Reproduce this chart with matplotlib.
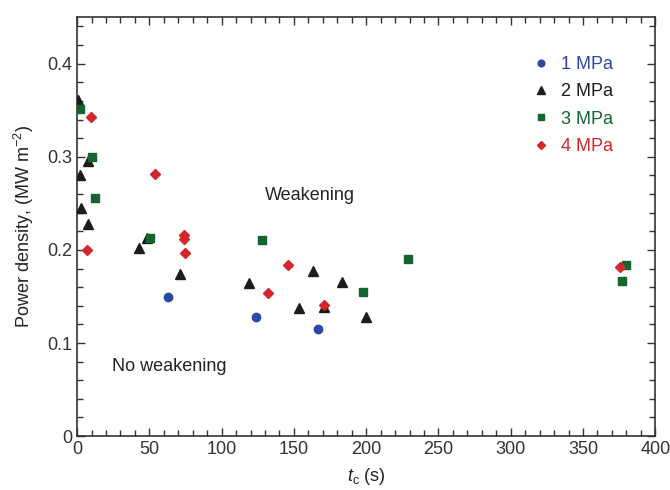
import matplotlib as mpl
mpl.use('Agg')
import matplotlib.pyplot as plt
from matplotlib.ticker import MultipleLocator, FuncFormatter

plt.rcParams['font.family'] = ['Liberation Sans', 'DejaVu Sans']
plt.rcParams['mathtext.fontset'] = 'custom'
plt.rcParams['mathtext.rm'] = 'Liberation Sans'
plt.rcParams['mathtext.it'] = 'Liberation Sans:italic'

# data: contact time (s) vs power density (MW m^-2)
t_1mpa = [63, 124, 167]
p_1mpa = [0.149, 0.128, 0.115]

t_2mpa = [1, 2, 2.5, 7.8, 7.8, 43, 48.7, 71.3, 119, 153.6, 163, 171.1, 183.2, 199.8]
p_2mpa = [0.361, 0.280, 0.245, 0.296, 0.228, 0.202, 0.213, 0.174, 0.164, 0.138, 0.177, 0.139, 0.165, 0.128]

t_3mpa = [2.1, 10.1, 12.5, 50.5, 127.8, 197.9, 229, 377, 380]
p_3mpa = [0.351, 0.300, 0.256, 0.213, 0.211, 0.155, 0.190, 0.167, 0.184]

t_4mpa = [9.7, 7.1, 54, 74, 74, 75, 132, 146, 171.1, 375.8]
p_4mpa = [0.343, 0.200, 0.281, 0.216, 0.212, 0.197, 0.154, 0.184, 0.141, 0.182]

c_blue = '#2e47a3'
c_black = '#1c1c1c'
c_green = '#13652f'
c_red = '#d3262d'

fig = plt.figure(figsize=(6.7, 4.9), dpi=100)
ax = fig.add_axes([0.115, 0.110, 0.863, 0.855])

ax.plot(t_1mpa, p_1mpa, 'o', color=c_blue, markersize=6, label='1 MPa', zorder=3)
ax.plot(t_2mpa, p_2mpa, '^', color=c_black, markersize=7, label='2 MPa', zorder=3)
ax.plot(t_3mpa, p_3mpa, 's', color=c_green, markersize=6, label='3 MPa', zorder=3)
ax.plot(t_4mpa, p_4mpa, 'D', color=c_red, markersize=5.5, label='4 MPa', zorder=4)

ax.set_xlim(0, 400)
ax.set_ylim(0, 0.45)

# ticks inside on all four sides
ax.xaxis.set_major_locator(MultipleLocator(50))
ax.xaxis.set_minor_locator(MultipleLocator(10))
ax.yaxis.set_major_locator(MultipleLocator(0.1))
ax.yaxis.set_minor_locator(MultipleLocator(0.02))
ax.yaxis.set_major_formatter(FuncFormatter(lambda v, p: '0' if abs(v) < 1e-9 else '%.1f' % v))
ax.tick_params(which='both', direction='in', top=True, right=True, labelsize=13, colors='#333333')
ax.tick_params(which='major', length=6, width=1)
ax.tick_params(which='minor', length=4, width=1)
for s in ax.spines.values():
    s.set_color('#333333')
    s.set_linewidth(1.2)

ax.set_xlabel(r'$t_{\rm c}$ (s)', fontsize=13, color='#222222', labelpad=6)
ax.set_ylabel(r'Power density, (MW m$^{-2}$)', fontsize=13, color='#222222', labelpad=8)

ax.text(161, 0.258, 'Weakening', fontsize=13, color='#222222', ha='center', va='center')
ax.text(64, 0.075, 'No weakening', fontsize=13, color='#222222', ha='center', va='center')

leg = ax.legend(loc='upper right', bbox_to_anchor=(0.955, 0.946), frameon=False, fontsize=13,
                markerscale=0.8, handlelength=1.0, handletextpad=0.6, labelspacing=0.57,
                labelcolor='markerfacecolor')

fig.savefig('out.png', dpi=100)
